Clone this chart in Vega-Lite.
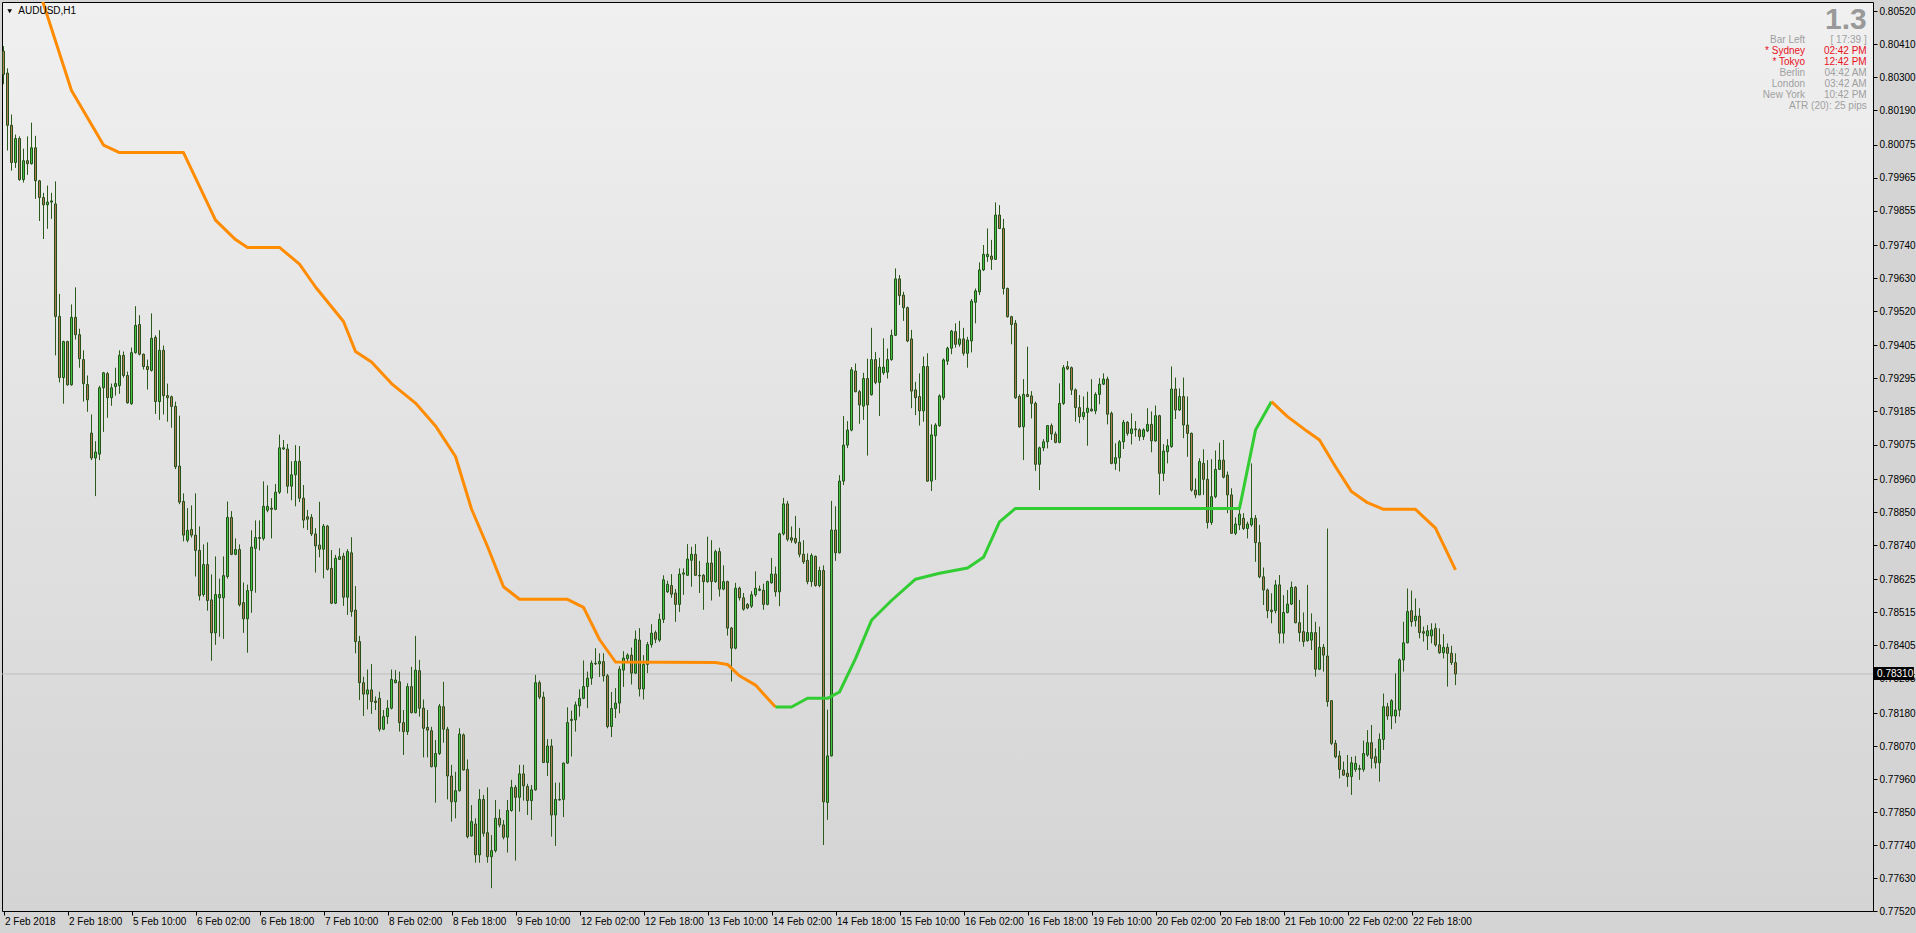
{
"$schema":"https://vega.github.io/schema/vega-lite/v6.json",
"width":1871,"height":909,
"autosize":{"type":"none"},
"padding":{"left":2,"top":2,"right":43,"bottom":22},
"background":"#d4d4d4",
"config":{"view":{"stroke":"#000000","strokeWidth":1,"fill":{"gradient":"linear","x1":0,"y1":0,"x2":0,"y2":1,"stops":[{"offset":0,"color":"#f0f0f0"},{"offset":1,"color":"#d4d4d4"}]}},"font":"Liberation Sans","axis":{"labelOverlap":false,"labelFlush":false},"scale":{"continuousPadding":0}},
"datasets":{
"one":[{"k":1}],
"candles":[
{"i":0,"o":0.80386,"h":0.80403,"l":0.80276,"c":0.80309},
{"i":1,"o":0.80313,"h":0.80329,"l":0.80055,"c":0.80139},
{"i":2,"o":0.80139,"h":0.80175,"l":0.79988,"c":0.80015},
{"i":3,"o":0.80015,"h":0.80108,"l":0.79997,"c":0.80095},
{"i":4,"o":0.80095,"h":0.80102,"l":0.79954,"c":0.79958},
{"i":5,"o":0.79958,"h":0.80061,"l":0.79948,"c":0.80021},
{"i":6,"o":0.80021,"h":0.80102,"l":0.79974,"c":0.80011},
{"i":7,"o":0.80011,"h":0.80148,"l":0.80008,"c":0.80064},
{"i":8,"o":0.80064,"h":0.80104,"l":0.79894,"c":0.79954},
{"i":9,"o":0.79954,"h":0.79957,"l":0.7982,"c":0.79898},
{"i":10,"o":0.79898,"h":0.79914,"l":0.7976,"c":0.79874},
{"i":11,"o":0.79874,"h":0.79938,"l":0.79794,"c":0.79883},
{"i":12,"o":0.79883,"h":0.79914,"l":0.79827,"c":0.79887},
{"i":13,"o":0.79877,"h":0.79952,"l":0.79372,"c":0.79502},
{"i":14,"o":0.79502,"h":0.79577,"l":0.79282,"c":0.79298},
{"i":15,"o":0.79298,"h":0.79421,"l":0.79211,"c":0.79418},
{"i":16,"o":0.79418,"h":0.79421,"l":0.79271,"c":0.79274},
{"i":17,"o":0.79274,"h":0.79542,"l":0.79271,"c":0.79499},
{"i":18,"o":0.79499,"h":0.79599,"l":0.79425,"c":0.79441},
{"i":19,"o":0.79441,"h":0.79461,"l":0.79331,"c":0.79361},
{"i":20,"o":0.79358,"h":0.79389,"l":0.79218,"c":0.79278},
{"i":21,"o":0.79275,"h":0.79305,"l":0.79184,"c":0.79224},
{"i":22,"o":0.79113,"h":0.79175,"l":0.79023,"c":0.7903},
{"i":23,"o":0.7903,"h":0.79086,"l":0.78903,"c":0.7905},
{"i":24,"o":0.79043,"h":0.79271,"l":0.79023,"c":0.79264},
{"i":25,"o":0.79264,"h":0.79317,"l":0.79117,"c":0.79314},
{"i":26,"o":0.79311,"h":0.79317,"l":0.79164,"c":0.79231},
{"i":27,"o":0.79231,"h":0.79278,"l":0.79204,"c":0.79264},
{"i":28,"o":0.79268,"h":0.79331,"l":0.79238,"c":0.79278},
{"i":29,"o":0.79271,"h":0.79389,"l":0.79244,"c":0.79372},
{"i":30,"o":0.79372,"h":0.79385,"l":0.79298,"c":0.79305},
{"i":31,"o":0.79305,"h":0.79318,"l":0.79211,"c":0.79214},
{"i":32,"o":0.79211,"h":0.79398,"l":0.79207,"c":0.79381},
{"i":33,"o":0.79381,"h":0.79536,"l":0.79378,"c":0.79472},
{"i":34,"o":0.79475,"h":0.79506,"l":0.79372,"c":0.79376},
{"i":35,"o":0.79376,"h":0.79378,"l":0.79325,"c":0.79335},
{"i":36,"o":0.79335,"h":0.79358,"l":0.79258,"c":0.79325},
{"i":37,"o":0.79322,"h":0.79512,"l":0.79318,"c":0.79429},
{"i":38,"o":0.79432,"h":0.79439,"l":0.79177,"c":0.79218},
{"i":39,"o":0.79218,"h":0.79456,"l":0.79157,"c":0.79389},
{"i":40,"o":0.79389,"h":0.79405,"l":0.79175,"c":0.79238},
{"i":41,"o":0.79238,"h":0.79278,"l":0.79151,"c":0.79231},
{"i":42,"o":0.79234,"h":0.79238,"l":0.79131,"c":0.79202},
{"i":43,"o":0.79202,"h":0.79218,"l":0.78993,"c":0.79001},
{"i":44,"o":0.79003,"h":0.79171,"l":0.78876,"c":0.78883},
{"i":45,"o":0.78885,"h":0.78912,"l":0.78752,"c":0.78773},
{"i":46,"o":0.78756,"h":0.78863,"l":0.78749,"c":0.78789},
{"i":47,"o":0.78792,"h":0.78872,"l":0.78765,"c":0.78773},
{"i":48,"o":0.78773,"h":0.78912,"l":0.78635,"c":0.78722},
{"i":49,"o":0.78722,"h":0.78802,"l":0.78555,"c":0.78571},
{"i":50,"o":0.78575,"h":0.78742,"l":0.78568,"c":0.78675},
{"i":51,"o":0.78675,"h":0.78749,"l":0.78521,"c":0.78555},
{"i":52,"o":0.78557,"h":0.78642,"l":0.78354,"c":0.78447},
{"i":53,"o":0.78447,"h":0.78702,"l":0.78407,"c":0.78575},
{"i":54,"o":0.78564,"h":0.78628,"l":0.78434,"c":0.78575},
{"i":55,"o":0.78564,"h":0.78702,"l":0.78427,"c":0.78638},
{"i":56,"o":0.78635,"h":0.78885,"l":0.78628,"c":0.78832},
{"i":57,"o":0.78832,"h":0.78853,"l":0.78706,"c":0.78709},
{"i":58,"o":0.78709,"h":0.78762,"l":0.78706,"c":0.78725},
{"i":59,"o":0.78725,"h":0.78742,"l":0.78535,"c":0.78541},
{"i":60,"o":0.78548,"h":0.78615,"l":0.78447,"c":0.78494},
{"i":61,"o":0.78494,"h":0.78608,"l":0.78381,"c":0.78588},
{"i":62,"o":0.78588,"h":0.78789,"l":0.78514,"c":0.78733},
{"i":63,"o":0.78729,"h":0.78822,"l":0.78581,"c":0.78765},
{"i":64,"o":0.78762,"h":0.78822,"l":0.78722,"c":0.78765},
{"i":65,"o":0.78762,"h":0.78952,"l":0.78755,"c":0.78869},
{"i":66,"o":0.78856,"h":0.78939,"l":0.78849,"c":0.78869},
{"i":67,"o":0.78863,"h":0.78896,"l":0.78762,"c":0.78859},
{"i":68,"o":0.78859,"h":0.78943,"l":0.78856,"c":0.78916},
{"i":69,"o":0.78916,"h":0.79108,"l":0.7891,"c":0.79064},
{"i":70,"o":0.7906,"h":0.7909,"l":0.79057,"c":0.79064},
{"i":71,"o":0.7906,"h":0.79077,"l":0.78912,"c":0.78936},
{"i":72,"o":0.78936,"h":0.79019,"l":0.78889,"c":0.78974},
{"i":73,"o":0.78974,"h":0.79073,"l":0.78869,"c":0.79019},
{"i":74,"o":0.79019,"h":0.7907,"l":0.78883,"c":0.78896},
{"i":75,"o":0.78896,"h":0.7894,"l":0.78796,"c":0.78823},
{"i":76,"o":0.78834,"h":0.78857,"l":0.7879,"c":0.78826},
{"i":77,"o":0.78832,"h":0.78843,"l":0.7877,"c":0.78777},
{"i":78,"o":0.78777,"h":0.78796,"l":0.78648,"c":0.78737},
{"i":79,"o":0.7874,"h":0.78884,"l":0.78699,"c":0.78726},
{"i":80,"o":0.78726,"h":0.7881,"l":0.78629,"c":0.78803},
{"i":81,"o":0.78803,"h":0.78807,"l":0.78655,"c":0.78659},
{"i":82,"o":0.78662,"h":0.78723,"l":0.78543,"c":0.78546},
{"i":83,"o":0.78546,"h":0.78707,"l":0.78543,"c":0.78696},
{"i":84,"o":0.78692,"h":0.78729,"l":0.7869,"c":0.78701},
{"i":85,"o":0.78703,"h":0.78714,"l":0.78537,"c":0.78566},
{"i":86,"o":0.78566,"h":0.78726,"l":0.78507,"c":0.78718},
{"i":87,"o":0.78714,"h":0.78766,"l":0.78501,"c":0.78518},
{"i":88,"o":0.78523,"h":0.78603,"l":0.78379,"c":0.78418},
{"i":89,"o":0.78418,"h":0.78437,"l":0.78223,"c":0.78281},
{"i":90,"o":0.78281,"h":0.78301,"l":0.7817,"c":0.78243},
{"i":91,"o":0.78243,"h":0.78325,"l":0.78192,"c":0.78257},
{"i":92,"o":0.78257,"h":0.78343,"l":0.78177,"c":0.78218},
{"i":93,"o":0.7822,"h":0.78235,"l":0.7819,"c":0.78215},
{"i":94,"o":0.78229,"h":0.78251,"l":0.78118,"c":0.78126},
{"i":95,"o":0.78126,"h":0.7819,"l":0.78123,"c":0.78168},
{"i":96,"o":0.78168,"h":0.78223,"l":0.78143,"c":0.78196},
{"i":97,"o":0.78196,"h":0.78325,"l":0.78192,"c":0.78292},
{"i":98,"o":0.78281,"h":0.78323,"l":0.78279,"c":0.7829},
{"i":99,"o":0.78284,"h":0.78318,"l":0.78118,"c":0.78148},
{"i":100,"o":0.78148,"h":0.7819,"l":0.7804,"c":0.78118},
{"i":101,"o":0.78118,"h":0.78279,"l":0.78107,"c":0.78268},
{"i":102,"o":0.78268,"h":0.78334,"l":0.78179,"c":0.78181},
{"i":103,"o":0.78181,"h":0.78437,"l":0.78179,"c":0.78323},
{"i":104,"o":0.78321,"h":0.78357,"l":0.78168,"c":0.78196},
{"i":105,"o":0.78196,"h":0.78225,"l":0.78032,"c":0.78129},
{"i":106,"o":0.78132,"h":0.7819,"l":0.78032,"c":0.78123},
{"i":107,"o":0.78121,"h":0.78134,"l":0.77999,"c":0.78001},
{"i":108,"o":0.78001,"h":0.7809,"l":0.77881,"c":0.78045},
{"i":109,"o":0.78045,"h":0.7821,"l":0.7804,"c":0.78203},
{"i":110,"o":0.78201,"h":0.78284,"l":0.78081,"c":0.78126},
{"i":111,"o":0.78126,"h":0.78134,"l":0.77892,"c":0.7797},
{"i":112,"o":0.7797,"h":0.78007,"l":0.77818,"c":0.77884},
{"i":113,"o":0.77884,"h":0.77984,"l":0.77829,"c":0.77921},
{"i":114,"o":0.77921,"h":0.78129,"l":0.77918,"c":0.7811},
{"i":115,"o":0.78107,"h":0.78112,"l":0.77988,"c":0.7799},
{"i":116,"o":0.77992,"h":0.78025,"l":0.77762,"c":0.77768},
{"i":117,"o":0.7777,"h":0.77873,"l":0.77768,"c":0.77818},
{"i":118,"o":0.7781,"h":0.77829,"l":0.77681,"c":0.77707},
{"i":119,"o":0.77707,"h":0.77926,"l":0.77681,"c":0.77892},
{"i":120,"o":0.77892,"h":0.77907,"l":0.77768,"c":0.77779},
{"i":121,"o":0.77781,"h":0.77932,"l":0.77681,"c":0.77701},
{"i":122,"o":0.77701,"h":0.77773,"l":0.77596,"c":0.77721},
{"i":123,"o":0.77721,"h":0.7789,"l":0.77715,"c":0.77829},
{"i":124,"o":0.77829,"h":0.77859,"l":0.77799,"c":0.77807},
{"i":125,"o":0.77807,"h":0.77823,"l":0.77759,"c":0.77766},
{"i":126,"o":0.77766,"h":0.7789,"l":0.77715,"c":0.77855},
{"i":127,"o":0.77855,"h":0.77957,"l":0.77851,"c":0.77932},
{"i":128,"o":0.77932,"h":0.7794,"l":0.77688,"c":0.77899},
{"i":129,"o":0.77899,"h":0.78007,"l":0.77851,"c":0.77977},
{"i":130,"o":0.77977,"h":0.78007,"l":0.77888,"c":0.77937},
{"i":131,"o":0.77935,"h":0.77944,"l":0.7784,"c":0.77888},
{"i":132,"o":0.77888,"h":0.7794,"l":0.77823,"c":0.77924},
{"i":133,"o":0.77924,"h":0.78307,"l":0.77921,"c":0.78281},
{"i":134,"o":0.78281,"h":0.78288,"l":0.78226,"c":0.78233},
{"i":135,"o":0.78233,"h":0.78251,"l":0.78013,"c":0.78015},
{"i":136,"o":0.78015,"h":0.78093,"l":0.7797,"c":0.7807},
{"i":137,"o":0.7807,"h":0.78093,"l":0.77768,"c":0.7784},
{"i":138,"o":0.7784,"h":0.77948,"l":0.77737,"c":0.77892},
{"i":139,"o":0.7789,"h":0.77948,"l":0.77888,"c":0.77892},
{"i":140,"o":0.77892,"h":0.78015,"l":0.77833,"c":0.78013},
{"i":141,"o":0.78013,"h":0.78199,"l":0.7801,"c":0.78148},
{"i":142,"o":0.78155,"h":0.78188,"l":0.78035,"c":0.78159},
{"i":143,"o":0.78157,"h":0.78218,"l":0.78118,"c":0.78207},
{"i":144,"o":0.78204,"h":0.78259,"l":0.78168,"c":0.78229},
{"i":145,"o":0.78229,"h":0.78355,"l":0.78226,"c":0.78268},
{"i":146,"o":0.78268,"h":0.78318,"l":0.78196,"c":0.78296},
{"i":147,"o":0.78296,"h":0.78355,"l":0.78274,"c":0.78346},
{"i":148,"o":0.78346,"h":0.78396,"l":0.7834,"c":0.78344},
{"i":149,"o":0.78344,"h":0.78379,"l":0.783,"c":0.78352},
{"i":150,"o":0.78351,"h":0.78379,"l":0.78285,"c":0.78304},
{"i":151,"o":0.78304,"h":0.7831,"l":0.78129,"c":0.78135},
{"i":152,"o":0.78135,"h":0.7825,"l":0.781,"c":0.78195},
{"i":153,"o":0.78195,"h":0.78263,"l":0.78163,"c":0.78213},
{"i":154,"o":0.78213,"h":0.78336,"l":0.78179,"c":0.78326},
{"i":155,"o":0.78323,"h":0.78386,"l":0.78267,"c":0.78363},
{"i":156,"o":0.78361,"h":0.78379,"l":0.78351,"c":0.78373},
{"i":157,"o":0.78373,"h":0.78398,"l":0.78275,"c":0.78313},
{"i":158,"o":0.78313,"h":0.78455,"l":0.7831,"c":0.78426},
{"i":159,"o":0.78423,"h":0.78463,"l":0.78235,"c":0.7826},
{"i":160,"o":0.7826,"h":0.78373,"l":0.78225,"c":0.78342},
{"i":161,"o":0.78342,"h":0.78417,"l":0.78313,"c":0.78408},
{"i":162,"o":0.78408,"h":0.78476,"l":0.78398,"c":0.78446},
{"i":163,"o":0.78448,"h":0.78455,"l":0.78413,"c":0.78426},
{"i":164,"o":0.78423,"h":0.78511,"l":0.78417,"c":0.78492},
{"i":165,"o":0.78492,"h":0.78639,"l":0.7848,"c":0.78624},
{"i":166,"o":0.78584,"h":0.78621,"l":0.7858,"c":0.78609},
{"i":167,"o":0.78605,"h":0.78643,"l":0.78564,"c":0.78576},
{"i":168,"o":0.7858,"h":0.78593,"l":0.78484,"c":0.78542},
{"i":169,"o":0.78542,"h":0.78662,"l":0.78517,"c":0.78643},
{"i":170,"o":0.78643,"h":0.78662,"l":0.78574,"c":0.78647},
{"i":171,"o":0.78639,"h":0.78743,"l":0.78639,"c":0.78693},
{"i":172,"o":0.78689,"h":0.78734,"l":0.78601,"c":0.78709},
{"i":173,"o":0.78709,"h":0.78743,"l":0.78637,"c":0.78639},
{"i":174,"o":0.78639,"h":0.78687,"l":0.7858,"c":0.78637},
{"i":175,"o":0.78639,"h":0.78643,"l":0.78524,"c":0.78618},
{"i":176,"o":0.78618,"h":0.78768,"l":0.78614,"c":0.7868},
{"i":177,"o":0.7868,"h":0.78756,"l":0.78555,"c":0.78618},
{"i":178,"o":0.78618,"h":0.78724,"l":0.78614,"c":0.78718},
{"i":179,"o":0.78718,"h":0.78731,"l":0.78568,"c":0.78593},
{"i":180,"o":0.78593,"h":0.78672,"l":0.78589,"c":0.78618},
{"i":181,"o":0.78618,"h":0.78621,"l":0.78438,"c":0.78463},
{"i":182,"o":0.78463,"h":0.78467,"l":0.78285,"c":0.78396},
{"i":183,"o":0.78396,"h":0.78614,"l":0.78392,"c":0.78596},
{"i":184,"o":0.78596,"h":0.78601,"l":0.78555,"c":0.78564},
{"i":185,"o":0.78564,"h":0.7858,"l":0.78521,"c":0.78526},
{"i":186,"o":0.78542,"h":0.78546,"l":0.78526,"c":0.7853},
{"i":187,"o":0.78536,"h":0.78586,"l":0.7853,"c":0.78574},
{"i":188,"o":0.78574,"h":0.78652,"l":0.78568,"c":0.78596},
{"i":189,"o":0.78589,"h":0.78605,"l":0.78586,"c":0.78593},
{"i":190,"o":0.78589,"h":0.78611,"l":0.78524,"c":0.78542},
{"i":191,"o":0.78542,"h":0.78621,"l":0.78539,"c":0.78618},
{"i":192,"o":0.78614,"h":0.78697,"l":0.78611,"c":0.78643},
{"i":193,"o":0.78643,"h":0.78668,"l":0.78568,"c":0.78584},
{"i":194,"o":0.78584,"h":0.78781,"l":0.78536,"c":0.78777},
{"i":195,"o":0.78777,"h":0.78897,"l":0.78772,"c":0.78877},
{"i":196,"o":0.78877,"h":0.78887,"l":0.78752,"c":0.78759},
{"i":197,"o":0.78764,"h":0.78802,"l":0.78747,"c":0.78756},
{"i":198,"o":0.78762,"h":0.78837,"l":0.78743,"c":0.78749},
{"i":199,"o":0.78749,"h":0.78797,"l":0.78699,"c":0.78709},
{"i":200,"o":0.78709,"h":0.78756,"l":0.78677,"c":0.78684},
{"i":201,"o":0.78689,"h":0.78712,"l":0.78609,"c":0.78618},
{"i":202,"o":0.78618,"h":0.78712,"l":0.78601,"c":0.78705},
{"i":203,"o":0.78702,"h":0.78705,"l":0.78601,"c":0.78605},
{"i":204,"o":0.78605,"h":0.78668,"l":0.78599,"c":0.78655},
{"i":205,"o":0.78655,"h":0.78672,"l":0.7774,"c":0.77884},
{"i":206,"o":0.77882,"h":0.78191,"l":0.77824,"c":0.78037},
{"i":207,"o":0.78037,"h":0.78887,"l":0.78035,"c":0.7879},
{"i":208,"o":0.7879,"h":0.78869,"l":0.78687,"c":0.78714},
{"i":209,"o":0.78714,"h":0.78973,"l":0.78712,"c":0.78953},
{"i":210,"o":0.78953,"h":0.7917,"l":0.7894,"c":0.79073},
{"i":211,"o":0.79073,"h":0.79153,"l":0.79063,"c":0.79123},
{"i":212,"o":0.79123,"h":0.79333,"l":0.79119,"c":0.79324},
{"i":213,"o":0.7932,"h":0.79345,"l":0.79249,"c":0.79251},
{"i":214,"o":0.79251,"h":0.79257,"l":0.79144,"c":0.79207},
{"i":215,"o":0.79203,"h":0.79314,"l":0.79157,"c":0.79295},
{"i":216,"o":0.79295,"h":0.79361,"l":0.79038,"c":0.79207},
{"i":217,"o":0.79241,"h":0.79464,"l":0.79238,"c":0.79358},
{"i":218,"o":0.79358,"h":0.79383,"l":0.79276,"c":0.79282},
{"i":219,"o":0.79282,"h":0.79364,"l":0.7917,"c":0.79333},
{"i":220,"o":0.79314,"h":0.79429,"l":0.79307,"c":0.79333},
{"i":221,"o":0.79316,"h":0.79395,"l":0.79295,"c":0.79358},
{"i":222,"o":0.79358,"h":0.79458,"l":0.79354,"c":0.79439},
{"i":223,"o":0.79439,"h":0.79662,"l":0.79437,"c":0.79627},
{"i":224,"o":0.79627,"h":0.7964,"l":0.7954,"c":0.79571},
{"i":225,"o":0.79573,"h":0.79584,"l":0.79487,"c":0.79531},
{"i":226,"o":0.79531,"h":0.79535,"l":0.79416,"c":0.7942},
{"i":227,"o":0.79427,"h":0.79457,"l":0.79196,"c":0.79253},
{"i":228,"o":0.79257,"h":0.79284,"l":0.79173,"c":0.79231},
{"i":229,"o":0.79235,"h":0.79312,"l":0.79138,"c":0.79187},
{"i":230,"o":0.79187,"h":0.79368,"l":0.79151,"c":0.79335},
{"i":231,"o":0.79335,"h":0.79379,"l":0.78951,"c":0.78953},
{"i":232,"o":0.78953,"h":0.79142,"l":0.7892,"c":0.79107},
{"i":233,"o":0.79104,"h":0.79146,"l":0.78957,"c":0.7914},
{"i":234,"o":0.79138,"h":0.79242,"l":0.79134,"c":0.79237},
{"i":235,"o":0.79231,"h":0.79362,"l":0.79223,"c":0.79357},
{"i":236,"o":0.79353,"h":0.79401,"l":0.7934,"c":0.79396},
{"i":237,"o":0.79396,"h":0.79457,"l":0.79376,"c":0.79453},
{"i":238,"o":0.79451,"h":0.79479,"l":0.79398,"c":0.79409},
{"i":239,"o":0.79409,"h":0.79487,"l":0.79401,"c":0.79427},
{"i":240,"o":0.79427,"h":0.79464,"l":0.79371,"c":0.79379},
{"i":241,"o":0.79379,"h":0.79434,"l":0.79331,"c":0.79423},
{"i":242,"o":0.7942,"h":0.7956,"l":0.79382,"c":0.79553},
{"i":243,"o":0.79549,"h":0.79595,"l":0.79479,"c":0.79587},
{"i":244,"o":0.79584,"h":0.79682,"l":0.79573,"c":0.79657},
{"i":245,"o":0.79657,"h":0.7974,"l":0.79653,"c":0.79709},
{"i":246,"o":0.79701,"h":0.79795,"l":0.79684,"c":0.79709},
{"i":247,"o":0.79703,"h":0.79757,"l":0.79657,"c":0.79692},
{"i":248,"o":0.79692,"h":0.79882,"l":0.7969,"c":0.7984},
{"i":249,"o":0.7984,"h":0.79873,"l":0.79793,"c":0.79795},
{"i":250,"o":0.79795,"h":0.79827,"l":0.79575,"c":0.79595},
{"i":251,"o":0.79595,"h":0.79598,"l":0.79498,"c":0.79501},
{"i":252,"o":0.79501,"h":0.79504,"l":0.79409,"c":0.79475},
{"i":253,"o":0.79479,"h":0.7949,"l":0.79227,"c":0.79231},
{"i":254,"o":0.79235,"h":0.79242,"l":0.79131,"c":0.79134},
{"i":255,"o":0.79134,"h":0.79293,"l":0.79023,"c":0.79242},
{"i":256,"o":0.79242,"h":0.79401,"l":0.79235,"c":0.79235},
{"i":257,"o":0.79237,"h":0.79253,"l":0.79162,"c":0.79212},
{"i":258,"o":0.79212,"h":0.79218,"l":0.78987,"c":0.79009},
{"i":259,"o":0.79009,"h":0.79068,"l":0.78923,"c":0.79064},
{"i":260,"o":0.79064,"h":0.79093,"l":0.79053,"c":0.79084},
{"i":261,"o":0.79084,"h":0.7914,"l":0.79062,"c":0.79138},
{"i":262,"o":0.79138,"h":0.79145,"l":0.7909,"c":0.7911},
{"i":263,"o":0.7911,"h":0.79118,"l":0.79079,"c":0.79082},
{"i":264,"o":0.79082,"h":0.79279,"l":0.79079,"c":0.79212},
{"i":265,"o":0.79212,"h":0.7934,"l":0.79207,"c":0.79331},
{"i":266,"o":0.79335,"h":0.79353,"l":0.79323,"c":0.79327},
{"i":267,"o":0.79331,"h":0.79335,"l":0.7924,"c":0.79257},
{"i":268,"o":0.79257,"h":0.79262,"l":0.79151,"c":0.79198},
{"i":269,"o":0.79198,"h":0.7924,"l":0.79146,"c":0.79168},
{"i":270,"o":0.79168,"h":0.79235,"l":0.79157,"c":0.79182},
{"i":271,"o":0.79182,"h":0.79251,"l":0.79071,"c":0.79196},
{"i":272,"o":0.79193,"h":0.79293,"l":0.79185,"c":0.79187},
{"i":273,"o":0.79187,"h":0.79249,"l":0.79176,"c":0.79242},
{"i":274,"o":0.79242,"h":0.79296,"l":0.79209,"c":0.79276},
{"i":275,"o":0.79276,"h":0.79312,"l":0.79273,"c":0.79293},
{"i":276,"o":0.79293,"h":0.79301,"l":0.79142,"c":0.79176},
{"i":277,"o":0.79179,"h":0.79185,"l":0.79009,"c":0.79012},
{"i":278,"o":0.79012,"h":0.79079,"l":0.7899,"c":0.79031},
{"i":279,"o":0.79031,"h":0.7909,"l":0.78985,"c":0.79084},
{"i":280,"o":0.79084,"h":0.79157,"l":0.7906,"c":0.79149},
{"i":281,"o":0.79149,"h":0.79153,"l":0.79104,"c":0.79112},
{"i":282,"o":0.79112,"h":0.79179,"l":0.79075,"c":0.79127},
{"i":283,"o":0.79127,"h":0.79153,"l":0.79101,"c":0.79124},
{"i":284,"o":0.79124,"h":0.79129,"l":0.79087,"c":0.79101},
{"i":285,"o":0.79101,"h":0.79129,"l":0.7909,"c":0.79124},
{"i":286,"o":0.7912,"h":0.79196,"l":0.79116,"c":0.79142},
{"i":287,"o":0.79142,"h":0.79185,"l":0.79049,"c":0.79087},
{"i":288,"o":0.79087,"h":0.79205,"l":0.79084,"c":0.79171},
{"i":289,"o":0.79171,"h":0.79174,"l":0.78907,"c":0.78979},
{"i":290,"o":0.78979,"h":0.79076,"l":0.78953,"c":0.79053},
{"i":291,"o":0.79051,"h":0.79093,"l":0.79012,"c":0.79071},
{"i":292,"o":0.79068,"h":0.79335,"l":0.79064,"c":0.7926},
{"i":293,"o":0.7926,"h":0.79298,"l":0.7916,"c":0.7919},
{"i":294,"o":0.7919,"h":0.79262,"l":0.79187,"c":0.79235},
{"i":295,"o":0.79235,"h":0.79298,"l":0.79096,"c":0.7914},
{"i":296,"o":0.7914,"h":0.79235,"l":0.79034,"c":0.79112},
{"i":297,"o":0.79112,"h":0.79115,"l":0.78918,"c":0.78923},
{"i":298,"o":0.78923,"h":0.78962,"l":0.78896,"c":0.78907},
{"i":299,"o":0.78907,"h":0.79029,"l":0.78907,"c":0.79018},
{"i":300,"o":0.79012,"h":0.79059,"l":0.78907,"c":0.78959},
{"i":301,"o":0.78959,"h":0.79023,"l":0.78795,"c":0.78815},
{"i":302,"o":0.78815,"h":0.79026,"l":0.78807,"c":0.78901},
{"i":303,"o":0.78901,"h":0.79055,"l":0.78896,"c":0.78992},
{"i":304,"o":0.78992,"h":0.79081,"l":0.7899,"c":0.79023},
{"i":305,"o":0.79023,"h":0.7909,"l":0.78962,"c":0.78966},
{"i":306,"o":0.78973,"h":0.78985,"l":0.78846,"c":0.78907},
{"i":307,"o":0.78907,"h":0.78929,"l":0.78777,"c":0.78779},
{"i":308,"o":0.78779,"h":0.78832,"l":0.78773,"c":0.7881},
{"i":309,"o":0.78807,"h":0.78857,"l":0.7879,"c":0.78843},
{"i":310,"o":0.78829,"h":0.78846,"l":0.7879,"c":0.78795},
{"i":311,"o":0.78795,"h":0.78818,"l":0.78762,"c":0.7881},
{"i":312,"o":0.78807,"h":0.79012,"l":0.78801,"c":0.78829},
{"i":313,"o":0.78829,"h":0.7884,"l":0.78684,"c":0.78748},
{"i":314,"o":0.78748,"h":0.78807,"l":0.78629,"c":0.78634},
{"i":315,"o":0.78634,"h":0.78665,"l":0.7854,"c":0.7859},
{"i":316,"o":0.7859,"h":0.78595,"l":0.78496,"c":0.78521},
{"i":317,"o":0.78523,"h":0.78579,"l":0.78479,"c":0.78518},
{"i":318,"o":0.78521,"h":0.78623,"l":0.78512,"c":0.78607},
{"i":319,"o":0.78607,"h":0.7864,"l":0.78412,"c":0.78446},
{"i":320,"o":0.78446,"h":0.78573,"l":0.78412,"c":0.78515},
{"i":321,"o":0.78515,"h":0.7859,"l":0.78512,"c":0.78543},
{"i":322,"o":0.78543,"h":0.78618,"l":0.7854,"c":0.78599},
{"i":323,"o":0.78599,"h":0.78603,"l":0.78479,"c":0.78481},
{"i":324,"o":0.78481,"h":0.78557,"l":0.78418,"c":0.78448},
{"i":325,"o":0.78451,"h":0.78515,"l":0.78401,"c":0.78418},
{"i":326,"o":0.78421,"h":0.78607,"l":0.78418,"c":0.78448},
{"i":327,"o":0.78423,"h":0.78512,"l":0.7839,"c":0.78448},
{"i":328,"o":0.78448,"h":0.78484,"l":0.78301,"c":0.78326},
{"i":329,"o":0.78326,"h":0.78468,"l":0.78323,"c":0.78399},
{"i":330,"o":0.78399,"h":0.7841,"l":0.78318,"c":0.78373},
{"i":331,"o":0.7837,"h":0.78795,"l":0.78201,"c":0.78218},
{"i":332,"o":0.78221,"h":0.78223,"l":0.78073,"c":0.78079},
{"i":333,"o":0.78079,"h":0.7809,"l":0.78029,"c":0.78034},
{"i":334,"o":0.78037,"h":0.78054,"l":0.77962,"c":0.77992},
{"i":335,"o":0.7799,"h":0.78018,"l":0.7797,"c":0.77973},
{"i":336,"o":0.77979,"h":0.7804,"l":0.77934,"c":0.77968},
{"i":337,"o":0.77968,"h":0.78034,"l":0.77907,"c":0.78014},
{"i":338,"o":0.77992,"h":0.78037,"l":0.77984,"c":0.78012},
{"i":339,"o":0.77992,"h":0.78007,"l":0.77957,"c":0.77995},
{"i":340,"o":0.77992,"h":0.78088,"l":0.77984,"c":0.78045},
{"i":341,"o":0.7804,"h":0.78123,"l":0.78034,"c":0.78081},
{"i":342,"o":0.78081,"h":0.7814,"l":0.77995,"c":0.78029},
{"i":343,"o":0.78034,"h":0.78062,"l":0.77995,"c":0.78014},
{"i":344,"o":0.78014,"h":0.78112,"l":0.77951,"c":0.78092},
{"i":345,"o":0.78092,"h":0.78245,"l":0.78057,"c":0.78201},
{"i":346,"o":0.78201,"h":0.78214,"l":0.78157,"c":0.7817},
{"i":347,"o":0.7817,"h":0.78226,"l":0.78126,"c":0.78221},
{"i":348,"o":0.7817,"h":0.78312,"l":0.78146,"c":0.7819},
{"i":349,"o":0.7819,"h":0.78362,"l":0.78168,"c":0.78357},
{"i":350,"o":0.78357,"h":0.78484,"l":0.78318,"c":0.78414},
{"i":351,"o":0.78414,"h":0.78595,"l":0.78412,"c":0.78518},
{"i":352,"o":0.78521,"h":0.78588,"l":0.78468,"c":0.78484},
{"i":353,"o":0.78488,"h":0.78562,"l":0.78468,"c":0.78503},
{"i":354,"o":0.78503,"h":0.78529,"l":0.78429,"c":0.78448},
{"i":355,"o":0.78451,"h":0.78468,"l":0.78418,"c":0.78446},
{"i":356,"o":0.78437,"h":0.78473,"l":0.7839,"c":0.78454},
{"i":357,"o":0.78437,"h":0.78479,"l":0.78412,"c":0.78457},
{"i":358,"o":0.78462,"h":0.78479,"l":0.78401,"c":0.78407},
{"i":359,"o":0.78407,"h":0.78462,"l":0.78377,"c":0.78381},
{"i":360,"o":0.78381,"h":0.78443,"l":0.78362,"c":0.78399},
{"i":361,"o":0.78399,"h":0.78412,"l":0.78268,"c":0.78379},
{"i":362,"o":0.78379,"h":0.78404,"l":0.7834,"c":0.78348},
{"i":363,"o":0.78348,"h":0.78379,"l":0.78273,"c":0.7831}
],
"trend":[
{"i":9,"v":0.80585,"t":"down","g":1},{"i":17,"v":0.80255,"t":"down","g":1},{"i":25,"v":0.80073,"t":"down","g":1},{"i":29,"v":0.80048,"t":"down","g":1},{"i":45,"v":0.80048,"t":"down","g":1},{"i":53,"v":0.79823,"t":"down","g":1},{"i":58,"v":0.79758,"t":"down","g":1},{"i":61,"v":0.79732,"t":"down","g":1},{"i":69,"v":0.79732,"t":"down","g":1},{"i":74,"v":0.79676,"t":"down","g":1},{"i":78,"v":0.796,"t":"down","g":1},{"i":85,"v":0.79485,"t":"down","g":1},{"i":88,"v":0.79385,"t":"down","g":1},{"i":92,"v":0.7935,"t":"down","g":1},{"i":97,"v":0.79278,"t":"down","g":1},{"i":103,"v":0.79213,"t":"down","g":1},{"i":108,"v":0.79137,"t":"down","g":1},{"i":113,"v":0.79035,"t":"down","g":1},{"i":117,"v":0.7886,"t":"down","g":1},{"i":121,"v":0.78735,"t":"down","g":1},{"i":125,"v":0.78601,"t":"down","g":1},{"i":129,"v":0.78559,"t":"down","g":1},{"i":141,"v":0.78559,"t":"down","g":1},{"i":145,"v":0.78532,"t":"down","g":1},{"i":149,"v":0.78425,"t":"down","g":1},{"i":153,"v":0.7835,"t":"down","g":1},{"i":178,"v":0.78348,"t":"down","g":1},{"i":181,"v":0.78342,"t":"down","g":1},{"i":184,"v":0.78304,"t":"down","g":1},{"i":188,"v":0.78273,"t":"down","g":1},{"i":193,"v":0.782,"t":"down","g":1},
{"i":193,"v":0.782,"t":"up","g":2},{"i":197,"v":0.782,"t":"up","g":2},{"i":201,"v":0.78229,"t":"up","g":2},{"i":206,"v":0.78229,"t":"up","g":2},{"i":209,"v":0.7825,"t":"up","g":2},{"i":213,"v":0.78361,"t":"up","g":2},{"i":217,"v":0.78489,"t":"up","g":2},{"i":222,"v":0.78555,"t":"up","g":2},{"i":228,"v":0.78626,"t":"up","g":2},{"i":234,"v":0.78646,"t":"up","g":2},{"i":241,"v":0.78663,"t":"up","g":2},{"i":245,"v":0.78699,"t":"up","g":2},{"i":249,"v":0.78817,"t":"up","g":2},{"i":253,"v":0.78862,"t":"up","g":2},{"i":309,"v":0.78862,"t":"up","g":2},{"i":313,"v":0.79123,"t":"up","g":2},{"i":317,"v":0.79218,"t":"up","g":2},
{"i":317,"v":0.79218,"t":"down","g":3},{"i":321,"v":0.79168,"t":"down","g":3},{"i":326,"v":0.79118,"t":"down","g":3},{"i":329,"v":0.7909,"t":"down","g":3},{"i":333,"v":0.79001,"t":"down","g":3},{"i":337,"v":0.78918,"t":"down","g":3},{"i":341,"v":0.78881,"t":"down","g":3},{"i":345,"v":0.78859,"t":"down","g":3},{"i":353,"v":0.78859,"t":"down","g":3},{"i":358,"v":0.78796,"t":"down","g":3},{"i":363,"v":0.78657,"t":"down","g":3}
]
},
"layer":[
{"data":{"name":"one"},
 "mark":{"type":"rule","color":"#bdbdbd","strokeWidth":1},
 "encoding":{"y":{"datum":0.7831,"type":"quantitative","title":null,"scale":{"domain":[0.7752,0.8055],"nice":false,"zero":false,"padding":0},
   "axis":{"orient":"right","values":[0.8052,0.8041,0.803,0.8019,0.80075,0.79965,0.79855,0.7974,0.7963,0.7952,0.79405,0.79295,0.79185,0.79075,0.7896,0.7885,0.7874,0.78625,0.78515,0.78405,0.78295,0.7818,0.7807,0.7796,0.7785,0.7774,0.7763,0.7752],
    "tickCount":60,"format":".5f","labelFont":"Liberation Sans","labelFontSize":10,"labelColor":"#000000","tickColor":"#000000","tickSize":4,"labelPadding":2,"domain":false,"grid":false,"labelOverlap":false,"labelFlush":false,"labelBound":false}}}},
{"data":{"name":"candles"},
 "mark":{"type":"rule","color":"#2b5a1a","strokeWidth":1},
 "encoding":{
  "x":{"field":"i","type":"quantitative","title":null,"scale":{"domain":[-0.375,467.375],"nice":false,"zero":false,"padding":0},
   "axis":{"orient":"bottom","values":[0,16,32,48,64,80,96,112,128,144,160,176,192,208,224,240,256,272,288,304,320,336,352],"tickCount":60,
    "labelExpr":"['2 Feb 2018','2 Feb 18:00','5 Feb 10:00','6 Feb 02:00','6 Feb 18:00','7 Feb 10:00','8 Feb 02:00','8 Feb 18:00','9 Feb 10:00','12 Feb 02:00','12 Feb 18:00','13 Feb 10:00','14 Feb 02:00','14 Feb 18:00','15 Feb 10:00','16 Feb 02:00','16 Feb 18:00','19 Feb 10:00','20 Feb 02:00','20 Feb 18:00','21 Feb 10:00','22 Feb 02:00','22 Feb 18:00'][round(datum.value/16)]",
    "labelAlign":"left","labelBaseline":"top","labelOffset":1,"labelPadding":1,"labelFont":"Liberation Sans","labelFontSize":10,"labelColor":"#000000","tickColor":"#000000","tickSize":4,"domain":false,"grid":false,"labelOverlap":false,"labelFlush":false}},
  "y":{"field":"l","type":"quantitative","title":null,"scale":{"domain":[0.7752,0.8055],"nice":false,"zero":false,"padding":0}},
  "y2":{"field":"h"}}},
{"data":{"name":"candles"},
 "mark":{"type":"bar","width":2,"stroke":"#24511a","strokeWidth":1},
 "encoding":{
  "x":{"field":"i","type":"quantitative","title":null,"scale":{"domain":[-0.375,467.375],"nice":false,"zero":false,"padding":0}},
  "y":{"field":"o","type":"quantitative","title":null,"scale":{"domain":[0.7752,0.8055],"nice":false,"zero":false,"padding":0}},
  "y2":{"field":"c"},
  "fill":{"condition":{"test":"datum.c >= datum.o","value":"#42c442"},"value":"#b27a50"}}},
{"data":{"name":"trend"},
 "mark":{"type":"line","strokeWidth":3,"clip":true,"strokeJoin":"round"},
 "encoding":{
  "x":{"field":"i","type":"quantitative","title":null,"scale":{"domain":[-0.375,467.375],"nice":false,"zero":false,"padding":0}},
  "y":{"field":"v","type":"quantitative","title":null,"scale":{"domain":[0.7752,0.8055],"nice":false,"zero":false,"padding":0}},
  "color":{"field":"t","type":"nominal","scale":{"domain":["down","up"],"range":["#ff8c00","#32cd32"]},"legend":null},
  "detail":{"field":"g"}}},
{"data":{"name":"one"},
 "mark":{"type":"point","shape":"triangle-down","filled":true,"color":"#000000","size":22,"opacity":1},
 "encoding":{"x":{"datum":1.55,"type":"quantitative"},"y":{"datum":0.80519,"type":"quantitative"}}},
{"data":{"name":"one"},
 "mark":{"type":"text","align":"left","baseline":"middle","font":"Liberation Sans","fontSize":10,"color":"#000000"},
 "encoding":{"x":{"datum":3.7,"type":"quantitative"},"y":{"datum":0.80521,"type":"quantitative"},"text":{"value":"AUDUSD,H1"}}},
{"data":{"name":"one"},
 "mark":{"type":"text","align":"right","baseline":"middle","font":"Liberation Sans","fontSize":30,"fontWeight":"bold","color":"#999999"},
 "encoding":{"x":{"datum":465.8,"type":"quantitative"},"y":{"datum":0.8049,"type":"quantitative"},"text":{"value":"1.3"}}},
{"data":{"name":"one"},
 "mark":{"type":"text","align":"right","baseline":"top","font":"Liberation Sans","fontSize":10,"color":"#a0a0a0"},
 "encoding":{"x":{"datum":450.4,"type":"quantitative"},"y":{"datum":0.80441,"type":"quantitative"},"text":{"value":"Bar Left"}}},
{"data":{"name":"one"},
 "mark":{"type":"text","align":"right","baseline":"top","font":"Liberation Sans","fontSize":10,"lineHeight":11,"color":"#e8101c"},
 "encoding":{"x":{"datum":450.4,"type":"quantitative"},"y":{"datum":0.804044,"type":"quantitative"},"text":{"value":["* Sydney","* Tokyo"]}}},
{"data":{"name":"one"},
 "mark":{"type":"text","align":"right","baseline":"top","font":"Liberation Sans","fontSize":10,"lineHeight":11,"color":"#a0a0a0"},
 "encoding":{"x":{"datum":450.4,"type":"quantitative"},"y":{"datum":0.80331,"type":"quantitative"},"text":{"value":["Berlin","London","New York"]}}},
{"data":{"name":"one"},
 "mark":{"type":"text","align":"right","baseline":"top","font":"Liberation Sans","fontSize":10,"color":"#a0a0a0"},
 "encoding":{"x":{"datum":465.8,"type":"quantitative"},"y":{"datum":0.80441,"type":"quantitative"},"text":{"value":"[ 17:39 ]"}}},
{"data":{"name":"one"},
 "mark":{"type":"text","align":"right","baseline":"top","font":"Liberation Sans","fontSize":10,"lineHeight":11,"color":"#e8101c"},
 "encoding":{"x":{"datum":465.8,"type":"quantitative"},"y":{"datum":0.804044,"type":"quantitative"},"text":{"value":["02:42 PM","12:42 PM"]}}},
{"data":{"name":"one"},
 "mark":{"type":"text","align":"right","baseline":"top","font":"Liberation Sans","fontSize":10,"lineHeight":11,"color":"#a0a0a0"},
 "encoding":{"x":{"datum":465.8,"type":"quantitative"},"y":{"datum":0.80331,"type":"quantitative"},"text":{"value":["04:42 AM","03:42 AM","10:42 PM","ATR (20): 25 pips"]}}},
{"data":{"name":"one"},
 "mark":{"type":"rect","color":"#000000"},
 "encoding":{"x":{"datum":467.6,"type":"quantitative"},"x2":{"datum":477.6},"y":{"datum":0.783334,"type":"quantitative"},"y2":{"datum":0.7829}}},
{"data":{"name":"one"},
 "mark":{"type":"text","align":"left","baseline":"middle","font":"Liberation Sans","fontSize":10,"color":"#ffffff"},
 "encoding":{"x":{"datum":468.4,"type":"quantitative"},"y":{"datum":0.7831,"type":"quantitative"},"text":{"value":"0.78310"}}}
]
}
